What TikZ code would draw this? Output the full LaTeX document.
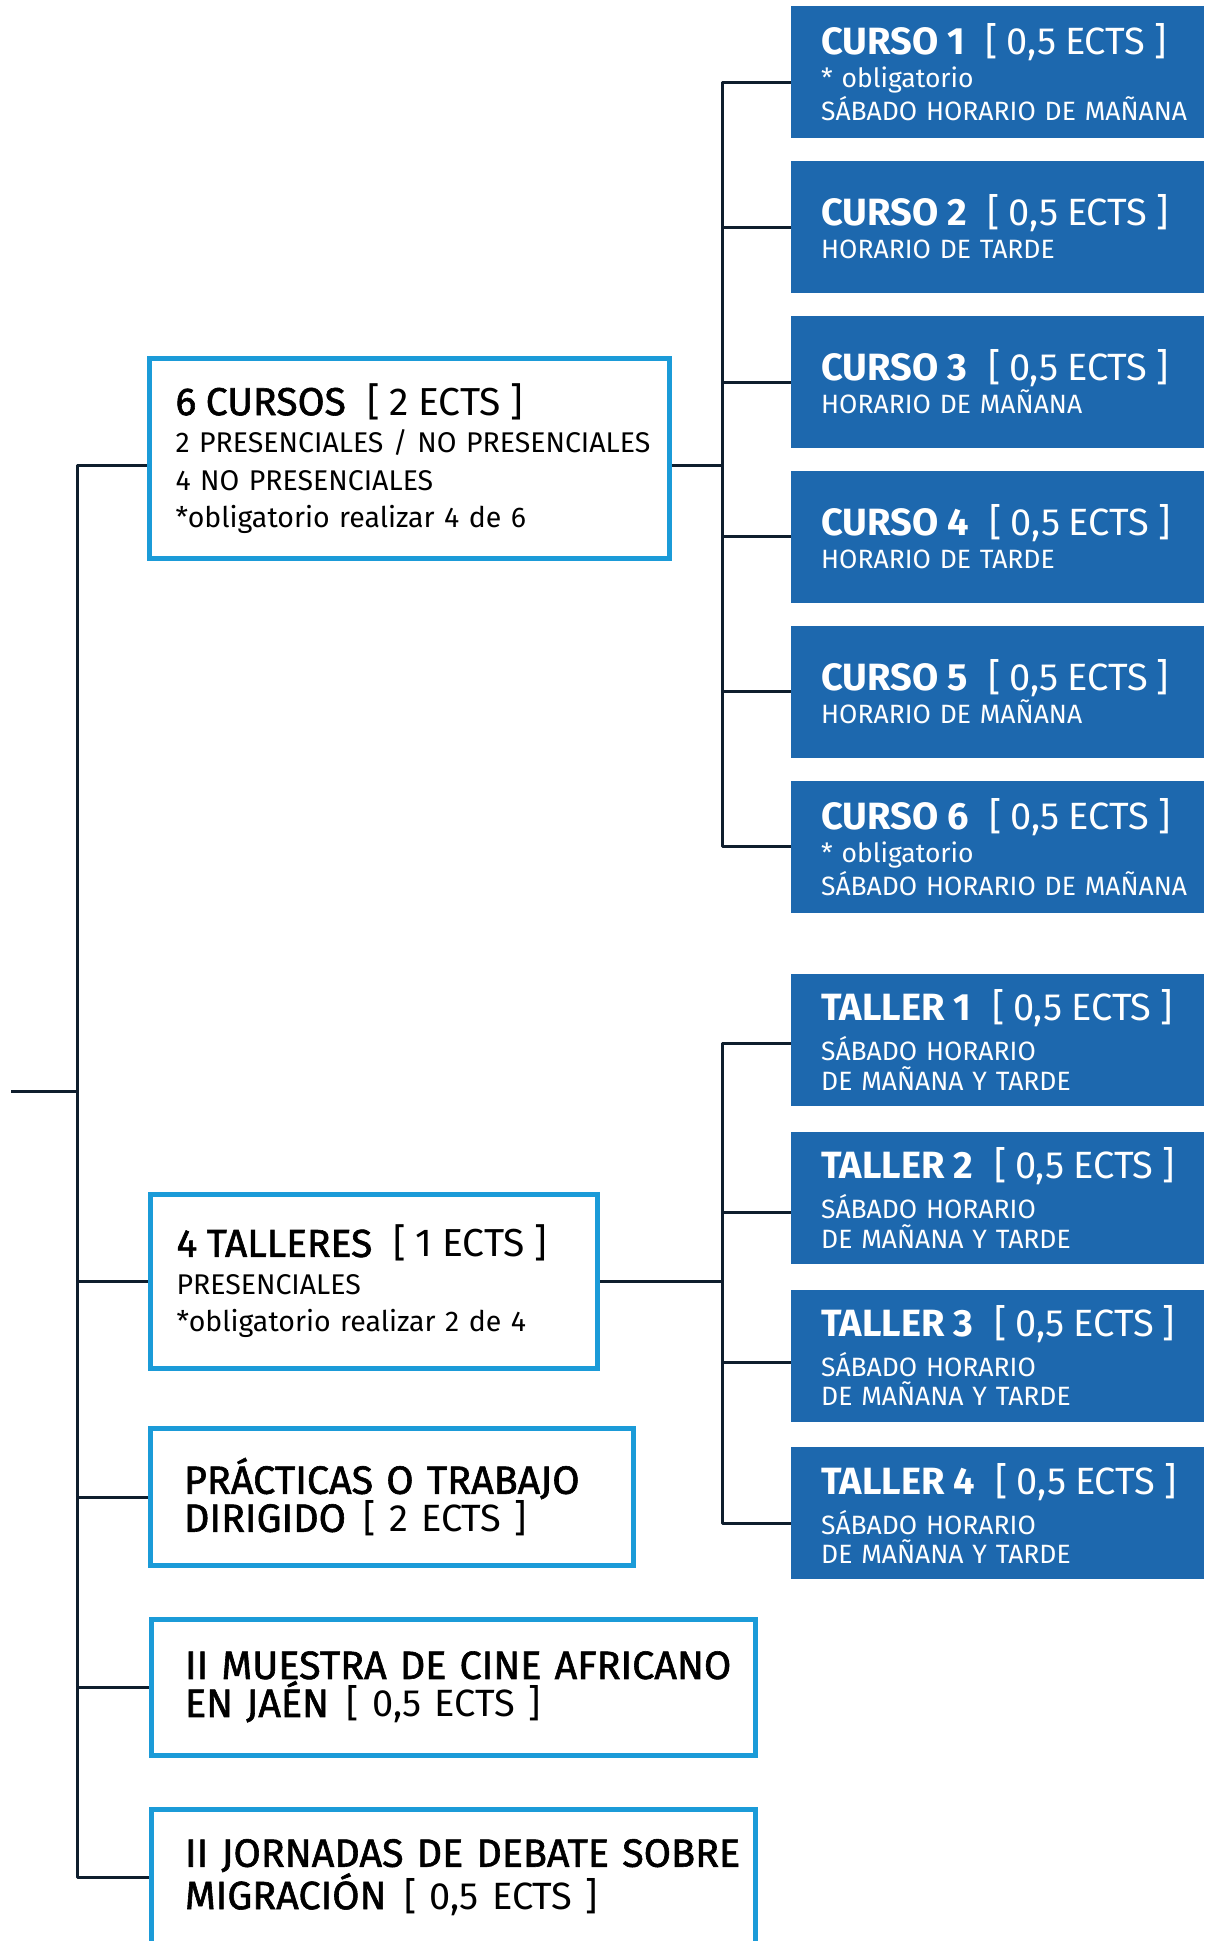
\documentclass[tikz,border=0pt]{standalone}
\usepackage{fontspec}
\setmainfont{Fira Sans}
\newfontfamily\medio[FakeBold=1.5]{Fira Sans}
\usetikzlibrary{backgrounds}

\definecolor{azul}{HTML}{1D68AE}
\definecolor{celeste}{HTML}{1B9BD8}
\definecolor{linea}{HTML}{0F1E2D}

% title line: #1 size, #2 weight, #3 name, #4 credits
\newcommand{\cabeza}[4][38]{\mbox{\fontsize{#1}{#1}\selectfont{#2#3}\hspace{.55em}[ #4 ECTS ]}}

\tikzset{
  curso/.style={fill=azul, text=white, anchor=north west, text width=353pt, inner xsep=30pt, inner ysep=0pt, minimum height=132pt, align=left, font=\fontsize{26.5}{33}\selectfont},
  taller/.style={curso, font=\fontsize{26.5}{29.5}\selectfont},
  caja/.style={draw=celeste, line width=5pt, anchor=north west, inner ysep=0pt, align=left, font=\fontsize{28.5}{37.5}\selectfont},
  cajados/.style={caja, inner xsep=34pt, font=\fontsize{39.5}{38}\selectfont\medio},
  enlace/.style={draw=linea, line width=3pt, line join=round},
}

\begin{document}
\begin{tikzpicture}[x=1pt, y=-1pt]
\useasboundingbox (0,0) rectangle (1208,1941);
\clip (0,0) rectangle (1208,1941);

% left column
\node[caja, text width=468pt, inner xsep=26pt, minimum height=200pt] (cursos) at (147,356)
  {\cabeza[39]{\medio}{6 CURSOS}{2}\\ \mbox{2 PRESENCIALES / NO PRESENCIALES}\\ 4 NO PRESENCIALES\\ {*}obligatorio realizar 4 de 6};
\node[caja, text width=395pt, inner xsep=26pt, minimum height=174pt] (talleres) at (148,1192)
  {\cabeza[39]{\medio}{4 TALLERES}{1}\\ PRESENCIALES\\ {*}obligatorio realizar 2 de 4};
\node[cajados, text width=415.5pt, minimum height=137pt] (practicas) at (147.5,1426)
  {\mbox{PRÁCTICAS O TRABAJO}\\ \mbox{DIRIGIDO\hspace{.45em}{\rmfamily\fontsize{38}{38}\selectfont [ 2 ECTS ]}}};
\node[cajados, text width=536pt, minimum height=136.5pt] (muestra) at (148.5,1616.5)
  {\mbox{II MUESTRA DE CINE AFRICANO}\\ \mbox{EN JAÉN\hspace{.45em}{\rmfamily\fontsize{38}{38}\selectfont [ 0,5 ECTS ]}}};
\node[cajados, text width=536pt, minimum height=136.5pt] (jornadas) at (148.5,1806.5)
  {\mbox{II JORNADAS DE DEBATE SOBRE}\\ \mbox{MIGRACIÓN\hspace{.45em}{\rmfamily\fontsize{38}{38}\selectfont [ 0,5 ECTS ]}}};

% courses
\node[curso] (c1) at (791,6) {\cabeza{\bfseries}{CURSO 1}{0,5}\\ {*} obligatorio\\ \mbox{SÁBADO HORARIO DE MAÑANA}};
\node[curso] (c2) at (791,160.9) {\cabeza{\bfseries}{CURSO 2}{0,5}\\ HORARIO DE TARDE};
\node[curso] (c3) at (791,315.8) {\cabeza{\bfseries}{CURSO 3}{0,5}\\ HORARIO DE MAÑANA};
\node[curso] (c4) at (791,470.7) {\cabeza{\bfseries}{CURSO 4}{0,5}\\ HORARIO DE TARDE};
\node[curso] (c5) at (791,625.6) {\cabeza{\bfseries}{CURSO 5}{0,5}\\ HORARIO DE MAÑANA};
\node[curso] (c6) at (791,780.5) {\cabeza{\bfseries}{CURSO 6}{0,5}\\ {*} obligatorio\\ \mbox{SÁBADO HORARIO DE MAÑANA}};

% workshops
\node[taller] (t1) at (791,974) {\cabeza{\bfseries}{TALLER 1}{0,5}\\[8.5pt] SÁBADO HORARIO\\ DE MAÑANA Y TARDE};
\node[taller] (t2) at (791,1131.7) {\cabeza{\bfseries}{TALLER 2}{0,5}\\[8.5pt] SÁBADO HORARIO\\ DE MAÑANA Y TARDE};
\node[taller] (t3) at (791,1289.4) {\cabeza{\bfseries}{TALLER 3}{0,5}\\[8.5pt] SÁBADO HORARIO\\ DE MAÑANA Y TARDE};
\node[taller] (t4) at (791,1447.1) {\cabeza{\bfseries}{TALLER 4}{0,5}\\[8.5pt] SÁBADO HORARIO\\ DE MAÑANA Y TARDE};

\coordinate (raiz) at (11,1091);
\coordinate (eje) at (77,1091);
\coordinate (rc) at (722,465);
\coordinate (rt) at (722,1281.5);

\begin{scope}[on background layer]
\fill[white] (0,0) rectangle (1208,1941);
% trunk
\draw[enlace] (raiz) -- (eje);
\draw[enlace] ([yshift=-6.5pt]cursos.west) -| (eje) |- (jornadas.west);
\foreach \n in {talleres,practicas,muestra}
  \draw[enlace] (\n.west) -- (\n.west -| eje);
% courses
\draw[enlace] ([yshift=-6.5pt]cursos.east) -- ([yshift=-6.5pt]cursos.east -| rc);
\draw[enlace] ([yshift=-10pt]c1.west) -| (rc) |- (c6.west);
\foreach \n in {c2,c3,c4,c5}
  \draw[enlace] (\n.west) -- (\n.west -| rc);
% workshops
\draw[enlace] (talleres.east) -- (talleres.east -| rt);
\draw[enlace] ([yshift=-3pt]t1.west) -| (rt) |- ([yshift=-10pt]t4.west);
\draw[enlace] ([yshift=-14.5pt]t2.west) -- ([yshift=-14.5pt]t2.west -| rt);
\draw[enlace] ([yshift=-6.5pt]t3.west) -- ([yshift=-6.5pt]t3.west -| rt);
\end{scope}

\end{tikzpicture}
\end{document}
